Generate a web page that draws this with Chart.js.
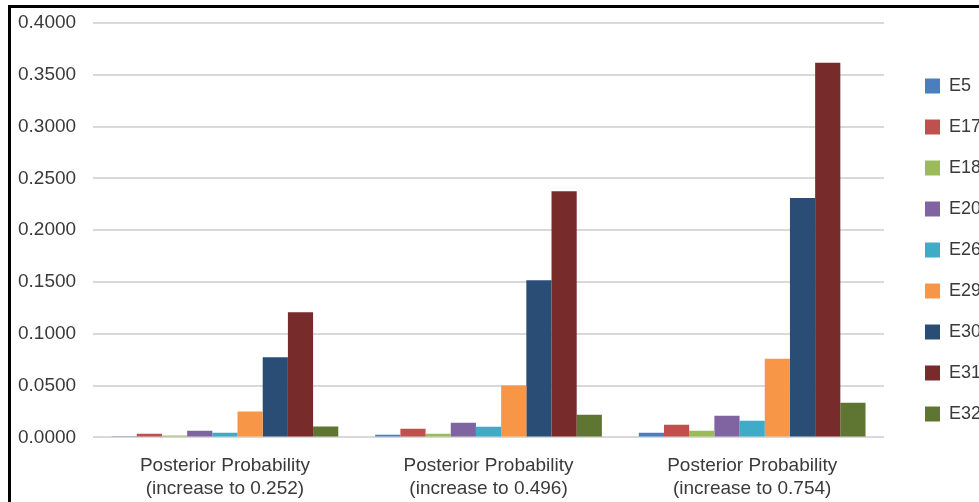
<!DOCTYPE html>
<html>
<head>
<meta charset="utf-8">
<script src="https://cdn.jsdelivr.net/npm/chart.js@4.4.1/dist/chart.umd.min.js"></script>
<style>
  html, body { margin: 0; padding: 0; background: #fff; }
  #wrap { position: relative; width: 979px; height: 502px; overflow: hidden; }
  #myBarChart { position: absolute; left: 0; top: 0; }
  .frame { position: absolute; left: 8px; top: 5px; right: -10px; bottom: -10px;
           border-top: 3px solid #000; border-left: 3px solid #000; pointer-events: none; }
</style>
</head>
<body>
<div id="wrap">
  <canvas id="myBarChart" width="979" height="502"></canvas>
  <div class="frame"></div>
</div>
<script>
// values
const categories = [
  ["Posterior Probability", "(increase to 0.252)"],
  ["Posterior Probability", "(increase to 0.496)"],
  ["Posterior Probability", "(increase to 0.754)"]
];
const seriesNames = ["E5", "E17", "E18", "E20", "E26", "E29", "E30", "E31", "E32"];
const seriesColors = ["#4a7ebf", "#c0504d", "#9bbb59", "#8064a2", "#3fabc6", "#f79646", "#2a4d76", "#772b2b", "#5f7632"];

const e5  = [0.0007, 0.0026, 0.0045];
const e17 = [0.0036, 0.0084, 0.0123];
const e18 = [0.0018, 0.0036, 0.0065];
const e20 = [0.0065, 0.0142, 0.0210];
const e26 = [0.0045, 0.0103, 0.0161];
const e29 = [0.0250, 0.0502, 0.0760];
const e30 = [0.0773, 0.1517, 0.2310];
const e31 = [0.1207, 0.2377, 0.3616];
const e32 = [0.0106, 0.0219, 0.0335];
const seriesValues = [e5, e17, e18, e20, e26, e29, e30, e31, e32];

const yTickLabels = ["0.0000", "0.0500", "0.1000", "0.1500", "0.2000", "0.2500", "0.3000", "0.3500", "0.4000"];

Chart.defaults.font.family = '"Liberation Sans", Arial, sans-serif';
Chart.defaults.font.size = 19;
Chart.defaults.color = '#3a3a3a';

// nudge the legend further right / up, like the original layout
const legendShift = {
  id: 'legendShift',
  afterLayout(chart) {
    const lg = chart.legend;
    lg.left += 18; lg.right += 18;
    lg.top -= 16; lg.bottom -= 16;
  }
};

const ctx = document.getElementById("myBarChart").getContext("2d");
const myBarChart = new Chart(ctx, {
  type: 'bar',
  data: {
    labels: categories,
    datasets: seriesNames.map((name, i) => ({
      label: name,
      data: seriesValues[i],
      backgroundColor: seriesColors[i],
      borderWidth: 0,
      barPercentage: 1,
      categoryPercentage: 0.86
    }))
  },
  options: {
    responsive: false,
    animation: false,
    layout: { padding: { left: 18, right: 6, top: 23, bottom: -7 } },
    scales: {
      x: {
        grid: { display: false },
        border: { display: false },
        ticks: { padding: 9, maxRotation: 0 }
      },
      y: {
        min: 0,
        max: 0.4,
        border: { display: false },
        grid: { color: '#d9d9d9', lineWidth: 2, drawTicks: false },
        ticks: {
          stepSize: 0.05,
          padding: 8.5,
          crossAlign: 'far',
          callback: (v, i) => yTickLabels[i]
        }
      }
    },
    plugins: {
      tooltip: { enabled: false },
      legend: {
        position: 'right',
        labels: { boxWidth: 15, boxHeight: 15, padding: 23, font: { size: 18 } }
      }
    }
  },
  plugins: [legendShift]
});
</script>
</body>
</html>
